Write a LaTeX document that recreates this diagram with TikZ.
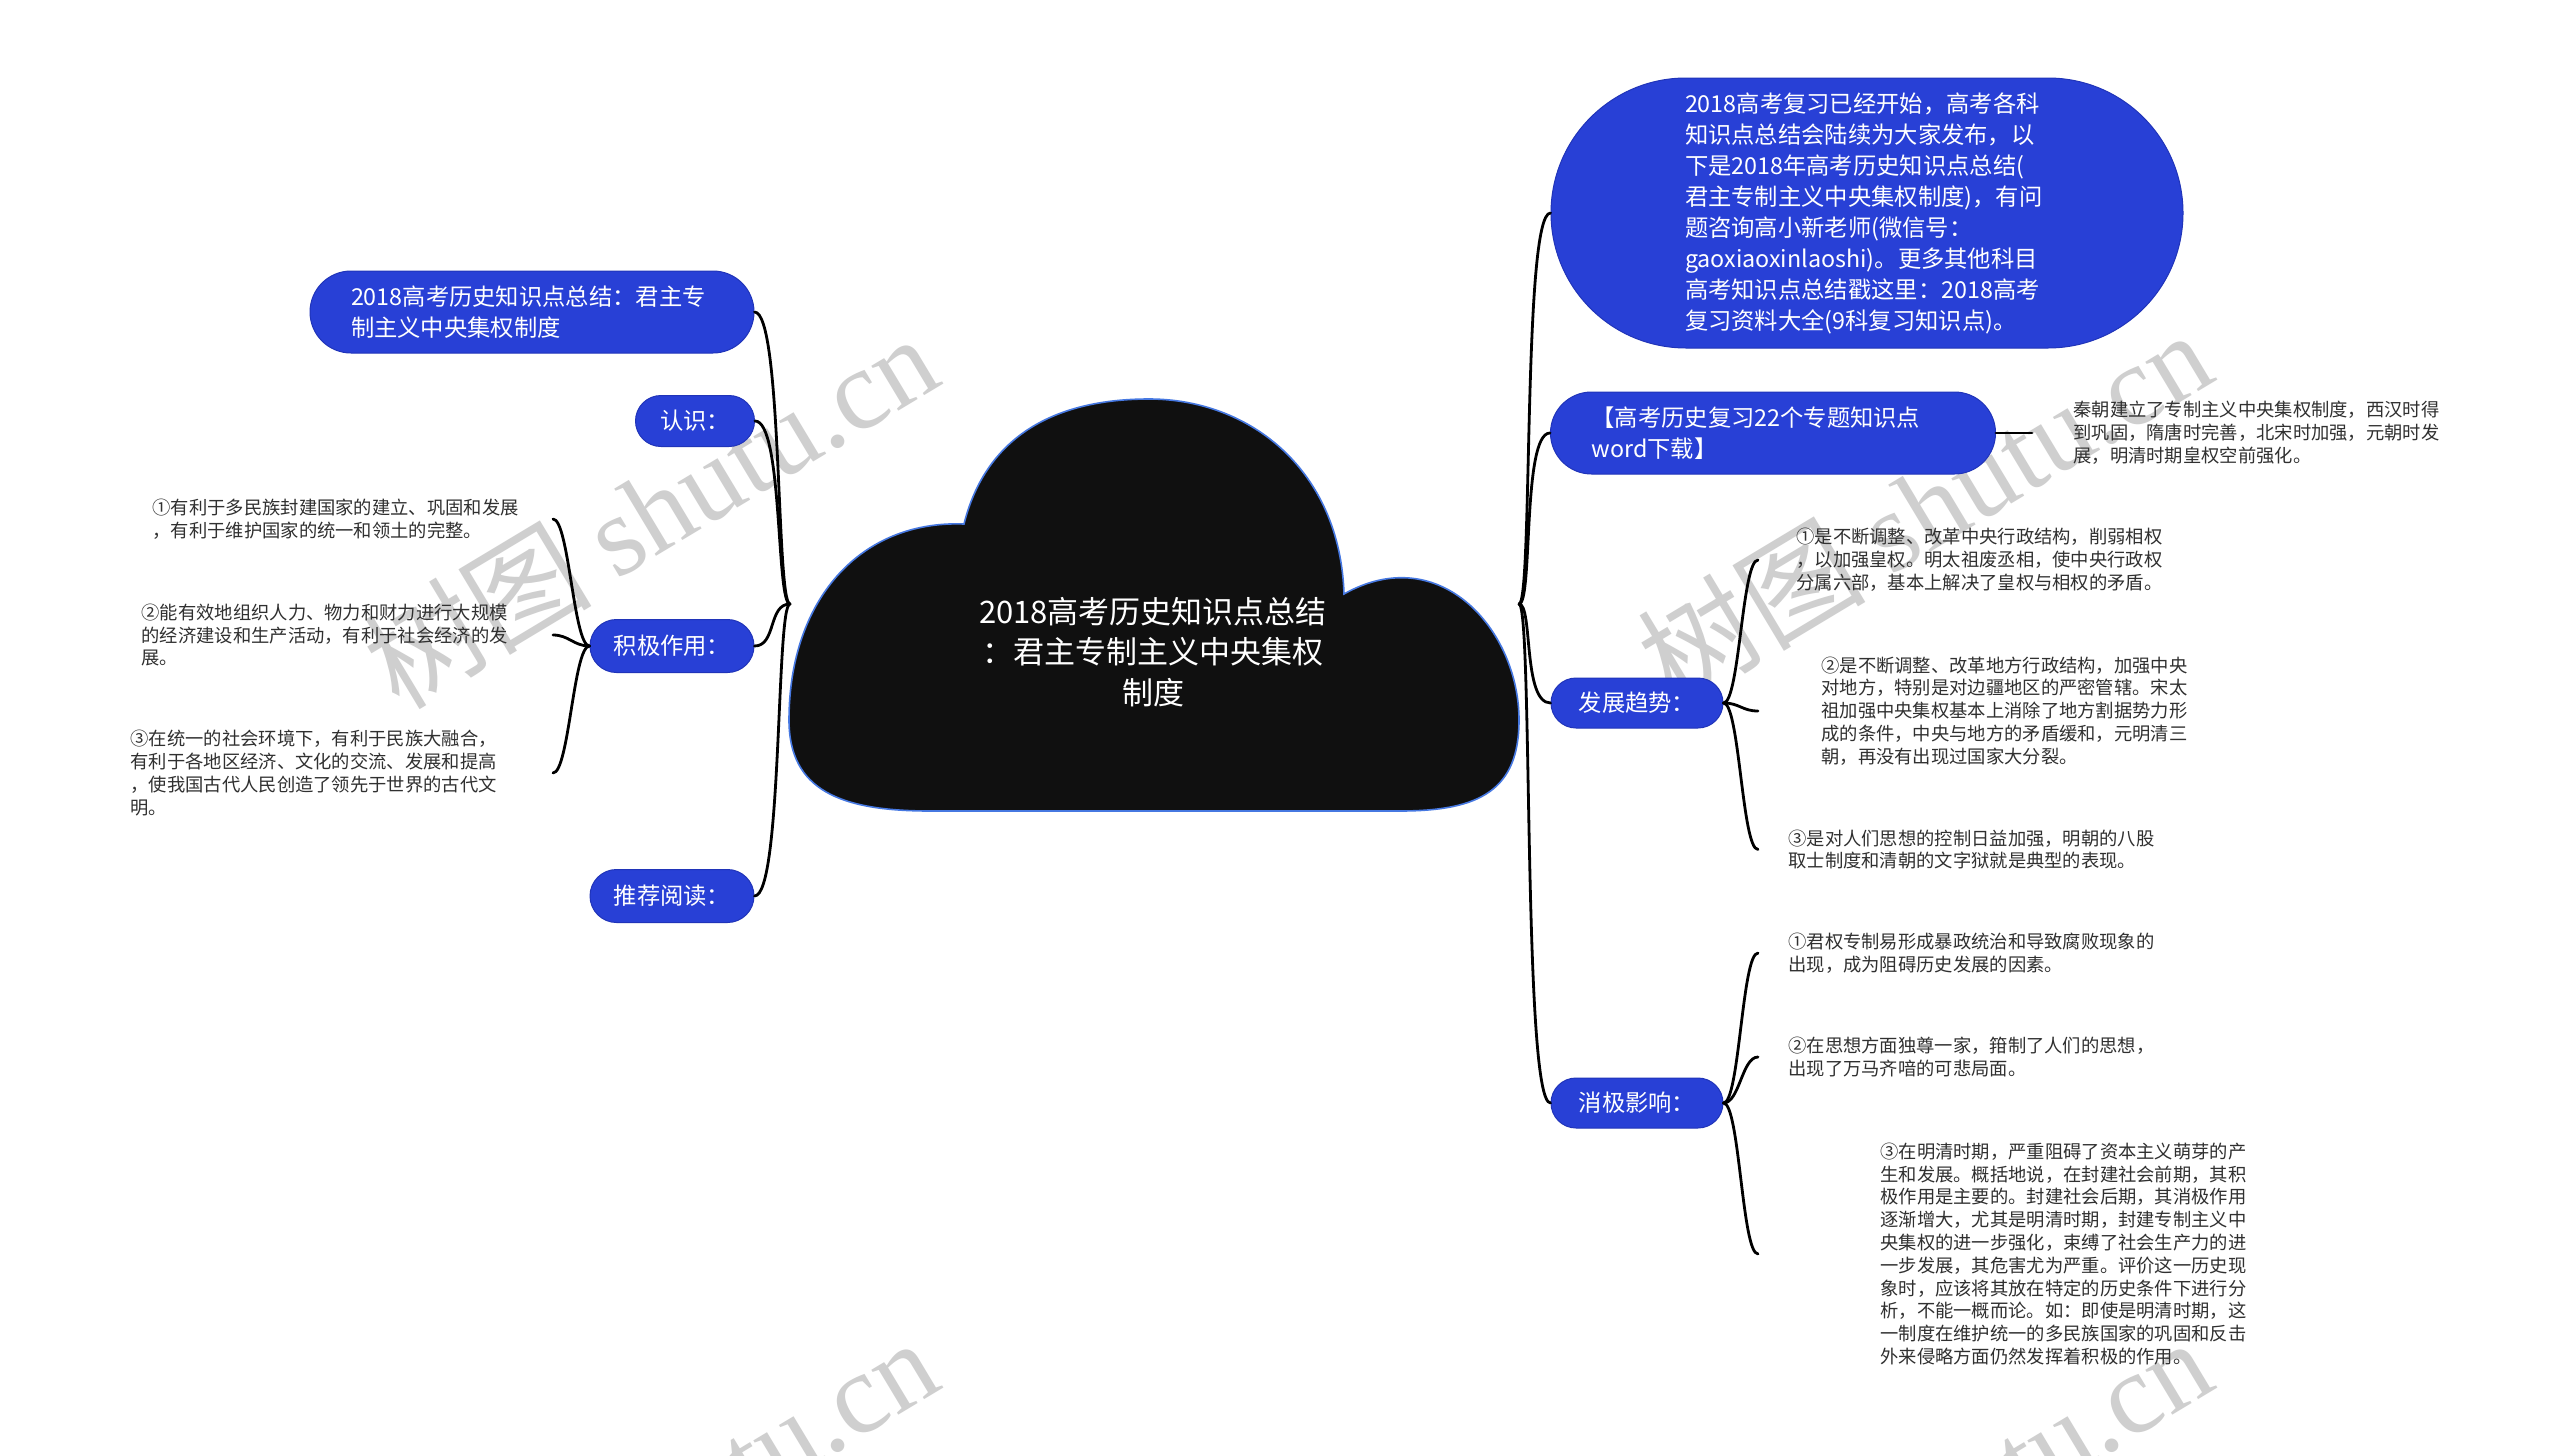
\documentclass[tikz,border=0pt]{standalone}
\usepackage{fontspec}
\setmainfont{Noto Sans CJK SC}
\newfontfamily\wmlat{Liberation Serif}
\newfontfamily\wmcjk{Noto Sans CJK SC}
\definecolor{boxblue}{RGB}{40,64,214}
\definecolor{boxedge}{RGB}{32,52,185}
\definecolor{cloudfill}{RGB}{16,16,16}
\definecolor{cloudedge}{RGB}{70,120,225}
\definecolor{txtgray}{RGB}{48,48,48}
\begin{document}
\begin{tikzpicture}[x=0.5pt,y=-0.5pt,
  bluebox/.style={fill=boxblue, draw=boxedge, line width=0.5pt, text=white,
    font=\fontsize{11.65}{15.5}\selectfont, inner ysep=0pt},
  shortbox/.style={bluebox, align=center, inner xsep=0pt, minimum height=25.5pt, rounded corners=12.75pt},
  smalltext/.style={font=\fontsize{9.15}{11.4}\selectfont, text=txtgray, align=left, inner ysep=0pt},
  conn/.style={line width=1.4pt, black, line cap=round},
  wm/.style={font=\fontsize{57}{57}\selectfont, text=black!19, inner sep=0pt},
]
\useasboundingbox (0,0) rectangle (2560,1456);
\clip (0,0) rectangle (2560,1456);
\fill[white] (0,0) rectangle (2560,1456);

% watermarks
\node[wm, rotate=31] (wm1) at (650,510) {{\wmcjk 树图} {\wmlat shutu.cn}};
\node[wm, rotate=31] (wm2) at (1924,506) {{\wmcjk 树图} {\wmlat shutu.cn}};
\node[wm, rotate=31] (wm3) at (650,1514) {{\wmcjk 树图} {\wmlat shutu.cn}};
\node[wm, rotate=31] (wm4) at (1924,1514) {{\wmcjk 树图} {\wmlat shutu.cn}};

% central cloud
\filldraw[fill=cloudfill, draw=cloudedge, line width=0.8pt]
  (789,720) .. controls (789,600) and (860,520) .. (964,524)
  .. controls (985,440) and (1050,399) .. (1149,399)
  .. controls (1250,399) and (1340,470) .. (1344,594)
  .. controls (1440,540) and (1519,630) .. (1519,720)
  .. controls (1519,790) and (1480,811) .. (1400,811)
  -- (930,811)
  .. controls (840,811) and (789,790) .. (789,720) -- cycle;
\node[font=\fontsize{15.5}{20.25}\selectfont, text=white, align=center, inner sep=0pt] (root) at (1153,652)
  {2018高考历史知识点总结\\：君主专制主义中央集权\\制度};

\coordinate (JL) at (790,604);
\coordinate (JR) at (1519,604);

% left boxes
\node[bluebox, align=left, text width=181pt, inner xsep=20.5pt, minimum height=41pt, rounded corners=20.5pt] (L1) at (532,312)
  {2018高考历史知识点总结：君主专\\制主义中央集权制度};
\node[shortbox, minimum width=59.5pt] (L2) at (695,421) {认识：};
\node[shortbox, minimum width=82pt, minimum height=26.5pt, rounded corners=13.25pt] (L3) at (672,646) {积极作用：};
\node[shortbox, minimum width=82pt, minimum height=26.5pt, rounded corners=13.25pt] (L4) at (672,896) {推荐阅读：};

% left items
\node[smalltext, anchor=east, inner xsep=17pt] (A1) at (553,519)
  {①有利于多民族封建国家的建立、巩固和发展\\，有利于维护国家的统一和领土的完整。};
\node[smalltext, anchor=east, inner xsep=22.5pt] (A2) at (553,635)
  {②能有效地组织人力、物力和财力进行大规模\\的经济建设和生产活动，有利于社会经济的发\\展。};
\node[smalltext, anchor=east, inner xsep=28pt] (A3) at (553,773)
  {③在统一的社会环境下，有利于民族大融合，\\有利于各地区经济、文化的交流、发展和提高\\，使我国古代人民创造了领先于世界的古代文\\明。};

% right boxes
\node[bluebox, align=left, text width=182pt, inner xsep=67pt, minimum height=135pt, rounded corners=67.5pt] (R1) at (1867,213)
  {2018高考复习已经开始，高考各科\\知识点总结会陆续为大家发布，以\\下是2018年高考历史知识点总结(\\君主专制主义中央集权制度)，有问\\题咨询高小新老师(微信号：\\gaoxiaoxinlaoshi)。更多其他科目\\高考知识点总结戳这里：2018高考\\复习资料大全(9科复习知识点)。};
\node[bluebox, align=left, text width=181.5pt, inner xsep=20.5pt, minimum height=41pt, rounded corners=20.5pt] (R2) at (1773,433)
  {【高考历史复习22个专题知识点\\word下载】};
\node[shortbox, minimum width=86pt, minimum height=25pt, rounded corners=12.5pt] (R3) at (1637,703) {发展趋势：};
\node[shortbox, minimum width=86pt, minimum height=25pt, rounded corners=12.5pt] (R4) at (1637,1103) {消极影响：};

% right items
\node[smalltext, anchor=west, inner xsep=20.5pt] (Q1) at (2032,433)
  {秦朝建立了专制主义中央集权制度，西汉时得\\到巩固，隋唐时完善，北宋时加强，元朝时发\\展，明清时期皇权空前强化。};
\node[smalltext, anchor=west, inner xsep=19pt] (F1) at (1758,560)
  {①是不断调整、改革中央行政结构，削弱相权\\，以加强皇权。明太祖废丞相，使中央行政权\\分属六部，基本上解决了皇权与相权的矛盾。};
\node[smalltext, anchor=west, inner xsep=31.5pt] (F2) at (1758,711)
  {②是不断调整、改革地方行政结构，加强中央\\对地方，特别是对边疆地区的严密管辖。宋太\\祖加强中央集权基本上消除了地方割据势力形\\成的条件，中央与地方的矛盾缓和，元明清三\\朝，再没有出现过国家大分裂。};
\node[smalltext, anchor=west, inner xsep=15pt] (F3) at (1758,849.5)
  {③是对人们思想的控制日益加强，明朝的八股\\取士制度和清朝的文字狱就是典型的表现。};
\node[smalltext, anchor=west, inner xsep=15pt] (N1) at (1758,953)
  {①君权专制易形成暴政统治和导致腐败现象的\\出现，成为阻碍历史发展的因素。};
\node[smalltext, anchor=west, inner xsep=15pt] (N2) at (1758,1057)
  {②在思想方面独尊一家，箝制了人们的思想，\\出现了万马齐喑的可悲局面。};
\node[smalltext, anchor=west, inner xsep=61pt] (N3) at (1758,1254)
  {③在明清时期，严重阻碍了资本主义萌芽的产\\生和发展。概括地说，在封建社会前期，其积\\极作用是主要的。封建社会后期，其消极作用\\逐渐增大，尤其是明清时期，封建专制主义中\\央集权的进一步强化，束缚了社会生产力的进\\一步发展，其危害尤为严重。评价这一历史现\\象时，应该将其放在特定的历史条件下进行分\\析，不能一概而论。如：即使是明清时期，这\\一制度在维护统一的多民族国家的巩固和反击\\外来侵略方面仍然发挥着积极的作用。};

% connectors, left
\draw[conn] (JL) .. controls +(-14,0) and +(28,0) .. (L1.east);
\draw[conn] (JL) .. controls +(-14,0) and +(28,0) .. (L2.east);
\draw[conn] (JL) .. controls +(-22,0) and +(22,0) .. (L3.east);
\draw[conn] (JL) .. controls +(-14,0) and +(28,0) .. (L4.east);
\draw[conn] (L3.west) .. controls +(-16,0) and +(16,0) .. (A1.east);
\draw[conn] (L3.west) .. controls +(-16,0) and +(16,0) .. (A2.east);
\draw[conn] (L3.west) .. controls +(-16,0) and +(16,0) .. (A3.east);

% connectors, right
\draw[conn] (JR) .. controls +(14,0) and +(-28,0) .. (R1.west);
\draw[conn] (JR) .. controls +(14,0) and +(-28,0) .. (R2.west);
\draw[conn] (JR) .. controls +(14,0) and +(-28,0) .. (R3.west);
\draw[conn] (JR) .. controls +(14,0) and +(-28,0) .. (R4.west);
\draw[conn] (R2.east) -- (Q1.west);
\draw[conn] (R3.east) .. controls +(16,0) and +(-16,0) .. (F1.west);
\draw[conn] (R3.east) .. controls +(16,0) and +(-16,0) .. (F2.west);
\draw[conn] (R3.east) .. controls +(16,0) and +(-16,0) .. (F3.west);
\draw[conn] (R4.east) .. controls +(16,0) and +(-16,0) .. (N1.west);
\draw[conn] (R4.east) .. controls +(16,0) and +(-16,0) .. (N2.west);
\draw[conn] (R4.east) .. controls +(16,0) and +(-16,0) .. (N3.west);
\end{tikzpicture}
\end{document}
